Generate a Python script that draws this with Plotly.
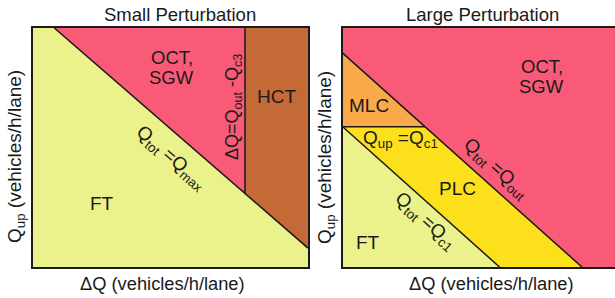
import plotly.graph_objects as go

# ---- data (vehicles/h/lane) ----
D_LEFT = 2400          # axis extent, left panel (both axes)
Q_MAX = 2590           # Q_tot = Q_max boundary (left)
Q_OUT_L = 2140         # Q_out (left)
Q_C3 = 289             # Q_c3 (left)  -> vertical boundary dQ = Q_out - Q_c3

DX_RIGHT = 2445        # x extent, right panel
DY_RIGHT = 2400        # y extent, right panel
Q_OUT = 2148           # Q_tot = Q_out boundary (right)
Q_C1 = 1408            # Q_c1 (right)

C_FT = "#ECF28B"
C_OCT = "#F85A78"
C_HCT = "#C46A37"
C_MLC = "#F9A94A"
C_PLC = "#FCE01C"
LINE = "#1a1a1a"
FONT = "Liberation Sans, Arial, sans-serif"

W, H = 615, 298
fig = go.Figure()

def poly(xs, ys, color, xa, ya):
    fig.add_trace(go.Scatter(x=xs + [xs[0]], y=ys + [ys[0]], fill="toself", fillcolor=color,
                             mode="lines", line=dict(width=0), hoverinfo="skip",
                             xaxis=xa, yaxis=ya, showlegend=False))

def seg(xs, ys, xa, ya):
    fig.add_trace(go.Scatter(x=xs, y=ys, mode="lines", line=dict(color=LINE, width=1.5),
                             hoverinfo="skip", xaxis=xa, yaxis=ya, showlegend=False))

# ---- left panel ----
D = D_LEFT
xv = Q_OUT_L - Q_C3
poly([0, 0, D, D], [0, D, D, 0], C_FT, "x", "y")
poly([Q_MAX - D, xv, xv], [D, D, Q_MAX - xv], C_OCT, "x", "y")
poly([xv, D, D, xv], [D, D, Q_MAX - D, Q_MAX - xv], C_HCT, "x", "y")
seg([Q_MAX - D, D], [D, Q_MAX - D], "x", "y")
seg([xv, xv], [D, Q_MAX - xv], "x", "y")

# ---- right panel ----
poly([0, 0, DX_RIGHT, DX_RIGHT], [0, DY_RIGHT, DY_RIGHT, 0], C_OCT, "x2", "y2")
poly([0, 0, Q_OUT - Q_C1], [Q_C1, Q_OUT, Q_C1], C_MLC, "x2", "y2")
poly([0, Q_OUT - Q_C1, Q_OUT, Q_C1], [Q_C1, Q_C1, 0, 0], C_PLC, "x2", "y2")
poly([0, 0, Q_C1], [0, Q_C1, 0], C_FT, "x2", "y2")
seg([0, Q_OUT], [Q_OUT, 0], "x2", "y2")
seg([0, Q_C1], [Q_C1, 0], "x2", "y2")
seg([0, Q_OUT - Q_C1], [Q_C1, Q_C1], "x2", "y2")

def px(x):
    return x / W

def py(y):
    return (H - y) / H

ax_common = dict(showgrid=False, zeroline=False, showticklabels=False, ticks="",
                 showline=True, linecolor=LINE, linewidth=1.5, fixedrange=True)
yd = [py(267), py(28)]
fig.update_layout(
    width=W, height=H, margin=dict(l=0, r=0, t=0, b=0),
    paper_bgcolor="white", plot_bgcolor="white",
    xaxis=dict(domain=[px(32.5), px(308)], range=[0, D], mirror=True, anchor="y", **ax_common),
    yaxis=dict(domain=yd, range=[0, D], mirror=True, anchor="x", **ax_common),
    xaxis2=dict(domain=[px(342.7), 1.0], range=[0, DX_RIGHT], mirror=True, anchor="y2", **ax_common),
    yaxis2=dict(domain=yd, range=[0, DY_RIGHT], mirror=False, anchor="x2", **ax_common),
    showlegend=False,
)

def label(text, x, y, size=19, angle=0):
    fig.add_annotation(text=text, x=px(x), y=py(y), xref="paper", yref="paper",
                       showarrow=False, textangle=angle, xanchor="center", yanchor="middle",
                       font=dict(family=FONT, size=size, color="#1a1a1a"))

ang_l = 40.7
ang_r = 41.8
# titles and axis titles
label("Small Perturbation", 180, 15, 18.5)
label("Large Perturbation", 482, 15, 18.5)
label("ΔQ (vehicles/h/lane)", 162, 283, 18.3)
label("ΔQ (vehicles/h/lane)", 491, 283, 18.3)
label("Q<sub>up</sub> (vehicles/h/lane)", 16, 157, 19, -90)
label("Q<sub>up</sub> (vehicles/h/lane)", 326, 157, 19, -90)

# left panel labels
label("OCT,", 172, 57, 18.5)
label("SGW", 171, 77, 18.5)
label("HCT", 276, 96)
label("FT", 102, 203)
label("Q<sub>tot</sub> =Q<sub>max</sub>", 171, 158, 19, ang_l)
label("ΔQ=Q<sub>out</sub> -Q<sub>c3</sub>", 233, 107, 18, -90)

# right panel labels
label("OCT,", 542, 67, 18.5)
label("SGW", 541, 87, 18.5)
label("MLC", 369, 105)
label("Q<sub>up</sub> =Q<sub>c1</sub>", 401, 139)
label("PLC", 457, 188)
label("FT", 368, 242)
label("Q<sub>tot</sub> =Q<sub>out</sub>", 496, 169, 19, ang_r)
label("Q<sub>tot</sub> =Q<sub>c1</sub>", 425, 221, 19, ang_r)

fig.write_html("out.html", config={"displayModeBar": False},
               post_script="document.body.style.margin='0';")
